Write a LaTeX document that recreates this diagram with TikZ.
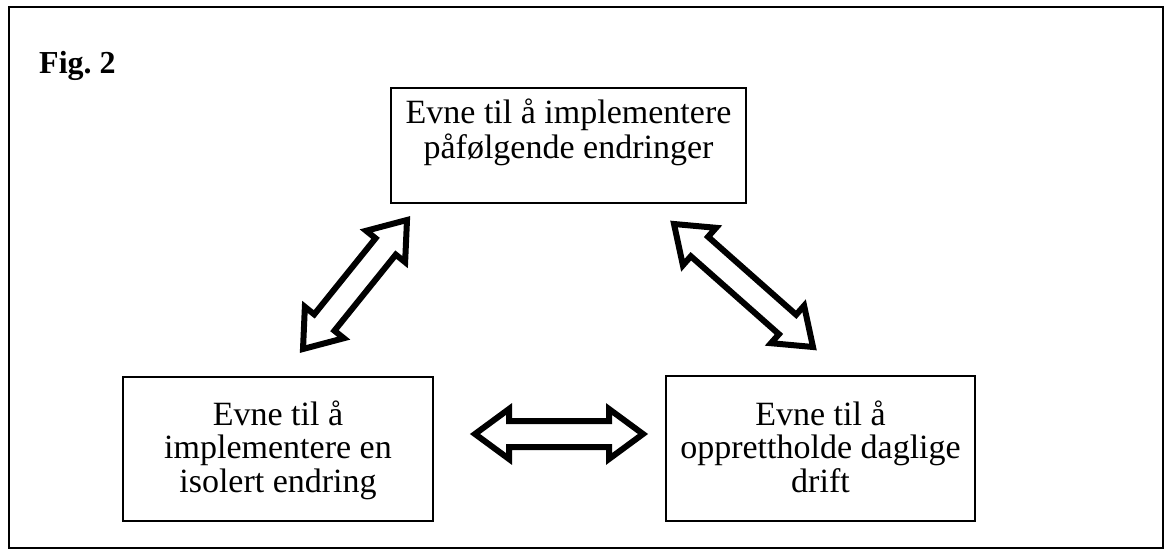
\documentclass[tikz,border=0pt]{standalone}
\usepackage{fontspec}
\setmainfont{Liberation Serif}
\usetikzlibrary{calc}
% block double-arrow geometry: head length, head half-width, shaft half-width
\newcommand\arrHL{34pt}
\newcommand\arrHW{25pt}
\newcommand\arrSW{13pt}
\begin{document}
\begin{tikzpicture}[x=1pt,y=-1pt,
  frame/.style={draw, line width=2pt},
  box/.style={draw, line width=2pt, inner sep=0pt},
  txt/.style={font=\fontsize{34}{33.5}\selectfont, inner sep=0pt},
  dblarrow/.style={draw, line width=6pt, line join=miter, fill=white,
    to path={
      -- ($($(\tikztostart)!\arrHL!(\tikztotarget)$)!\arrHW!90:(\tikztotarget)$)
      -- ($($(\tikztostart)!\arrHL!(\tikztotarget)$)!\arrSW!90:(\tikztotarget)$)
      -- ($($(\tikztotarget)!\arrHL!(\tikztostart)$)!\arrSW!-90:(\tikztostart)$)
      -- ($($(\tikztotarget)!\arrHL!(\tikztostart)$)!\arrHW!-90:(\tikztostart)$)
      -- (\tikztotarget)
      -- ($($(\tikztotarget)!\arrHL!(\tikztostart)$)!\arrHW!90:(\tikztostart)$)
      -- ($($(\tikztotarget)!\arrHL!(\tikztostart)$)!\arrSW!90:(\tikztostart)$)
      -- ($($(\tikztostart)!\arrHL!(\tikztotarget)$)!\arrSW!-90:(\tikztotarget)$)
      -- ($($(\tikztostart)!\arrHL!(\tikztotarget)$)!\arrHW!-90:(\tikztotarget)$)
      -- cycle}}
]
\useasboundingbox (0,0) rectangle (1173,556);

% outer frame
\draw[frame] (9,7) rectangle (1163,548);

% caption
\node[anchor=base west, inner sep=0pt, font=\bfseries\fontsize{32}{33}\selectfont]
  (figlabel) at (39,74) {Fig.~2};

% boxes
\node[box, minimum width=355pt, minimum height=115pt] (topbox) at (568.5,145.5) {};
\node[box, minimum width=310pt, minimum height=144pt] (leftbox) at (278,449) {};
\node[box, minimum width=309pt, minimum height=145pt] (rightbox) at (820.5,448.5) {};

% box texts
\node[txt, anchor=base] (toptext) at (568.5,124)
  {\begin{tabular}[t]{@{}c@{}}Evne til å implementere\\påfølgende endringer\end{tabular}};
\node[txt, anchor=base] (lefttext) at (278,425)
  {\begin{tabular}[t]{@{}c@{}}Evne til å\\implementere en\\isolert endring\end{tabular}};
\node[txt, anchor=base] (righttext) at (820.5,425)
  {\begin{tabular}[t]{@{}c@{}}Evne til å\\opprettholde daglige\\drift\end{tabular}};

% arrow tips
\coordinate (la) at (303,349);
\coordinate (lb) at (407,220);
\coordinate (ra) at (674,224);
\coordinate (rb) at (813,347);
\coordinate (ha) at (475,434);
\coordinate (hb) at (643,434);

% hollow double arrows
\draw[dblarrow] (la) to (lb);
\draw[dblarrow] (ra) to (rb);
\draw[dblarrow] (ha) to (hb);
\end{tikzpicture}
\end{document}
